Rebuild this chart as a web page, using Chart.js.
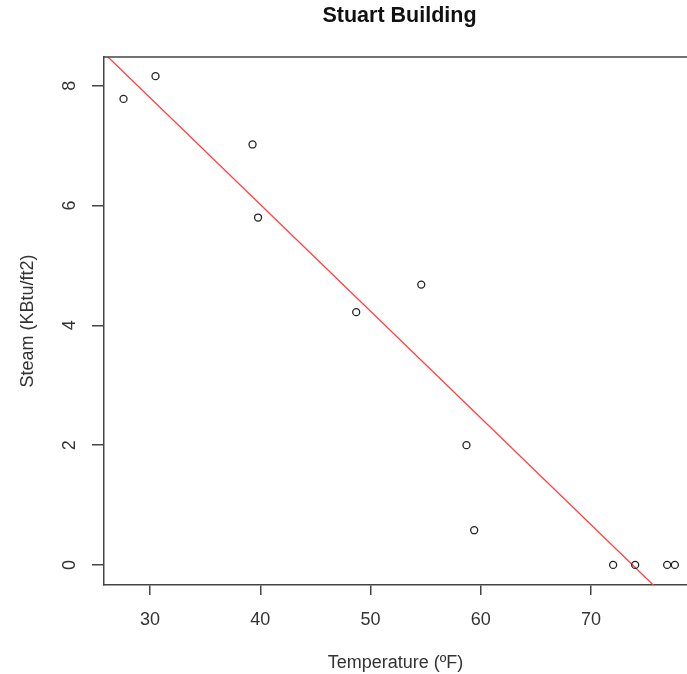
<!DOCTYPE html>
<html>
<head>
<meta charset="utf-8">
<script src="https://cdn.jsdelivr.net/npm/chart.js@4"></script>
<style>
  html, body { margin: 0; padding: 0; background: #fff; overflow: hidden; }
  #wrap { width: 687px; height: 674px; }
</style>
</head>
<body>
<div id="wrap"><canvas id="stuart"></canvas></div>
<script>
// readings from the plot
const Temperature = [27.6, 30.5, 39.3, 39.8, 48.7, 54.6, 58.7, 59.4, 72.0, 74.0, 76.9, 77.6];
const Steam = [7.78, 8.16, 7.02, 5.80, 4.22, 4.68, 2.00, 0.58, 0.00, 0.00, 0.00, 0.00];

// fitted line (lm) end points
const Fit_X = [25.8, 78.7];
const Fit_Y = [8.55, -0.88];

const xTicksStep = 10;
const yTicksStep = 2;

const textColor = '#333';
const axisColor = '#444';
const fontFam = '"Liberation Sans", Arial, sans-serif';

// titre + bord haut + labels y tournés (style R)
const rStyle = {
    id: 'rStyle',
    afterDraw(chart) {
        const c = chart.ctx;
        const area = chart.chartArea;
        c.save();
        c.strokeStyle = axisColor;
        c.lineWidth = 1.5;
        c.beginPath();
        c.moveTo(area.left, area.top);
        c.lineTo(chart.width, area.top);
        c.stroke();

        c.fillStyle = '#111';
        c.font = 'bold 21.5px ' + fontFam;
        c.textAlign = 'center';
        c.textBaseline = 'middle';
        c.fillText('Stuart Building', 399.5, 16);

        const y = chart.scales.y;
        c.fillStyle = textColor;
        c.font = '18px ' + fontFam;
        y.ticks.forEach(t => {
            const py = y.getPixelForValue(t.value);
            c.save();
            c.translate(70, py);
            c.rotate(-Math.PI / 2);
            c.textAlign = 'center';
            c.textBaseline = 'middle';
            c.fillText(String(t.value), 0, 0);
            c.restore();
        });
        c.restore();
    }
};

new Chart(document.getElementById('stuart'), {
    type: 'scatter',
    data: {
        datasets: [
            {
                label: 'Steam',
                data: Temperature.map((t, i) => ({ x: t, y: Steam[i] })),
                pointStyle: 'circle',
                pointRadius: 3.5,
                pointHoverRadius: 3.5,
                backgroundColor: 'rgba(0,0,0,0)',
                borderColor: '#222',
                borderWidth: 1.3
            },
            {
                type: 'line',
                label: 'fit',
                data: Fit_X.map((t, i) => ({ x: t, y: Fit_Y[i] })),
                borderColor: '#ff4040',
                borderWidth: 1.3,
                pointRadius: 0,
                fill: false
            }
        ]
    },
    options: {
        responsive: true,
        maintainAspectRatio: false,
        animation: false,
        layout: { autoPadding: false, padding: { top: 57, right: 0, left: 0, bottom: 0 } },
        scales: {
            x: {
                type: 'linear',
                min: 25.83,
                max: 78.7,
                afterFit: s => { s.height = 89; },
                border: { display: true, color: axisColor, width: 1.5 },
                grid: { drawOnChartArea: false, tickLength: 10, color: axisColor, lineWidth: 1.5 },
                ticks: {
                    stepSize: xTicksStep,
                    includeBounds: false,
                    color: textColor,
                    padding: 14,
                    maxRotation: 0,
                    font: { size: 18, family: fontFam }
                },
                title: {
                    display: true,
                    text: 'Temperature (ºF)',
                    color: textColor,
                    padding: { top: 0, bottom: 0 },
                    font: { size: 18, family: fontFam }
                }
            },
            y: {
                type: 'linear',
                min: -0.335,
                max: 8.48,
                afterFit: s => { s.width = 104; },
                border: { display: true, color: axisColor, width: 1.5 },
                grid: { drawOnChartArea: false, tickLength: 12, color: axisColor, lineWidth: 1.5 },
                ticks: {
                    stepSize: yTicksStep,
                    includeBounds: false,
                    display: false
                },
                title: {
                    display: true,
                    text: 'Steam (KBtu/ft2)',
                    color: textColor,
                    padding: { top: 17, bottom: 0 },
                    font: { size: 18, family: fontFam }
                }
            }
        },
        plugins: {
            legend: { display: false },
            title: { display: false },
            tooltip: { enabled: false }
        }
    },
    plugins: [rStyle]
});
</script>
</body>
</html>
